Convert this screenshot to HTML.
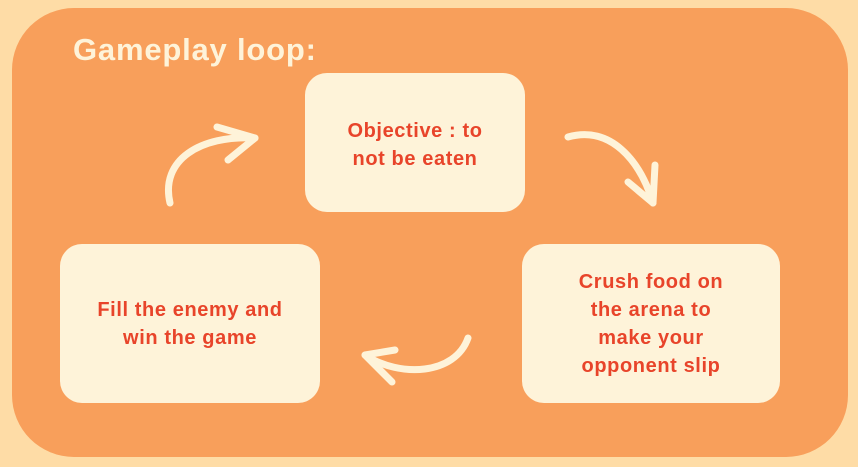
<!DOCTYPE html>
<html><head><style>
body{margin:0;width:858px;height:467px;background:#FEDCA6;overflow:hidden;font-family:"Liberation Sans",sans-serif;}
.panel{position:absolute;left:12px;top:8px;width:836px;height:449px;border-radius:62px;background:#F89F5B;}
.title{position:absolute;left:73px;top:32px;font-size:31px;font-weight:bold;color:#FEF3D9;letter-spacing:0.8px;}
.box{position:absolute;background:#FEF3D9;border-radius:22px;color:#E8442A;font-weight:bold;font-size:20px;letter-spacing:0.6px;line-height:28px;text-align:center;display:flex;align-items:center;justify-content:center;}
</style></head><body>
<div class="panel"></div>
<div class="title">Gameplay loop:</div>
<div class="box" style="left:305px;top:73px;width:220px;height:139px;align-items:flex-start;"><div style="margin-top:44px">Objective : to<br>not be eaten</div></div>
<div class="box" style="left:60px;top:244px;width:260px;height:159px;">Fill the enemy and<br>win the game</div>
<div class="box" style="left:522px;top:244px;width:258px;height:159px;">Crush food on<br>the arena to<br>make your<br>opponent slip</div>
<svg width="858" height="467" style="position:absolute;left:0;top:0" fill="none" stroke="#FEF3D9" stroke-width="7" stroke-linecap="round" stroke-linejoin="round">
<path d="M170 203 C160 160 200 135 255 138"/>
<path d="M217 127 L255 138 L228 160"/>
<path d="M568 137 C610 125 640 160 653 203"/>
<path d="M628 182 L653 203 L655 165"/>
<path d="M468 338 C455 375 400 378 365 355"/>
<path d="M395 350 L365 355 L392 382"/>
</svg>
</body></html>
